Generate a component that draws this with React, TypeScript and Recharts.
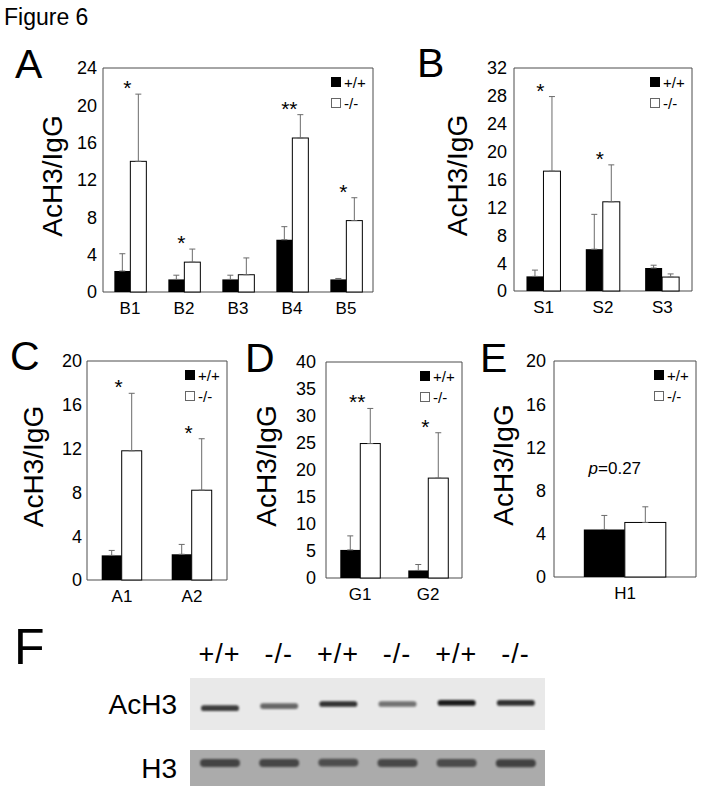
import React from "react";
import {
  BarChart,
  Bar,
  XAxis,
  YAxis,
  ErrorBar,
  Legend,
  ReferenceArea,
  CartesianGrid,
} from "recharts";

const FONT = "'Liberation Sans', Arial, Helvetica, sans-serif";
const FRAME = "#4d4d4d";
const ERR = "#6b6b6b";

// A: B1-B5
const catsA = ["B1", "B2", "B3", "B4", "B5"];
const wtA = [2.25, 1.35, 1.35, 5.6, 1.35];
const wtErrA = [1.85, 0.45, 0.45, 1.4, 0.1];
const koA = [14.0, 3.2, 1.85, 16.5, 7.65];
const koErrA = [7.2, 1.4, 1.8, 2.5, 2.45];
const sigA = ["*", "*", "", "**", "*"];
const ticksA = [0, 4, 8, 12, 16, 20, 24];

// B: S1-S3
const catsB = ["S1", "S2", "S3"];
const wtB = [2.1, 6.0, 3.3];
const wtErrB = [0.9, 5.0, 0.4];
const koB = [17.2, 12.8, 2.0];
const koErrB = [10.7, 5.3, 0.45];
const sigB = ["*", "*", ""];
const ticksB = [0, 4, 8, 12, 16, 20, 24, 28, 32];

// C: A1-A2
const catsC = ["A1", "A2"];
const wtC = [2.25, 2.35];
const wtErrC = [0.45, 0.9];
const koC = [11.8, 8.2];
const koErrC = [5.25, 4.7];
const sigC = ["*", "*"];
const ticksC = [0, 4, 8, 12, 16, 20];

// D: G1-G2
const catsD = ["G1", "G2"];
const wtD = [5.2, 1.4];
const wtErrD = [2.6, 1.1];
const koD = [24.9, 18.5];
const koErrD = [6.5, 8.4];
const sigD = ["**", "*"];
const ticksD = [0, 5, 10, 15, 20, 25, 30, 35, 40];

// E: H1
const catsE = ["H1"];
const wtE = [4.4];
const wtErrE = [1.3];
const koE = [5.05];
const koErrE = [1.45];
const sigE = ["p=0.27"];
const ticksE = [0, 4, 8, 12, 16, 20];

// F: western blot lanes
const lanes = ["+/+", "-/-", "+/+", "-/-", "+/+", "-/-"];
const acH3Level = [0.8, 0.6, 0.85, 0.55, 0.95, 0.85];
const acH3Pos = [4.2, 4.6, 5.0, 5.0, 5.2, 5.2];
const h3Level = [0.8, 0.78, 0.72, 0.76, 0.74, 0.82];
const h3Pos = [6.4, 6.4, 6.5, 6.4, 6.4, 6.3];

type Spec = {
  cats: string[];
  wt: number[];
  wtErr: number[];
  ko: number[];
  koErr: number[];
  sig: string[];
  ticks: number[];
  box: [number, number, number, number];
  tickGap: number;
  titleGap: number;
};

const YW = 90;
const TOP = 16;
const XH = 32;
const RIGHT = 4;

function LegendBox(props: any) {
  const items = props.payload ?? [];
  return (
    <div style={{ fontFamily: FONT, fontSize: 15, color: "#000" }}>
      {items.map((it: any, i: number) => (
        <div key={i} style={{ display: "flex", alignItems: "center", height: 21 }}>
          <span
            style={{
              display: "inline-block",
              width: 10,
              height: 10,
              boxSizing: "border-box",
              border: i === 0 ? "1px solid #000" : "1px solid #666",
              background: i === 0 ? "#000" : "#fff",
              marginRight: 3,
            }}
          />
          <span style={{ lineHeight: "21px" }}>{it.value}</span>
        </div>
      ))}
    </div>
  );
}

// white bar with its significance mark above the error bar
function KoShape(props: any) {
  const { x, y, width, height, payload } = props;
  if (height == null || !payload) return null;
  const px = payload.ko ? height / payload.ko : 0;
  const errTop = y - payload.koErr[1] * px;
  const sig: string = payload.sig || "";
  return (
    <g>
      <rect x={x} y={y} width={width} height={height} fill="#fff" stroke="#000" strokeWidth={1} />
      {sig.startsWith("p=") ? (
        <text x={x - 10} y={errTop - 33} textAnchor="middle" fontSize={17} fill="#000">
          <tspan fontStyle="italic">p</tspan>
          {sig.slice(1)}
        </text>
      ) : sig ? (
        <text x={x - 3} y={errTop + 1} textAnchor="middle" fontSize={21} fill="#000">
          {sig}
        </text>
      ) : null}
    </g>
  );
}

function Panel({ s }: { s: Spec }) {
  const [x0, y0, x1, y1] = s.box;
  const width = x1 - x0 + YW + RIGHT;
  const height = y1 - y0 + TOP + XH;
  const left = x0 - YW;
  const top = y0 - TOP;
  const yMax = s.ticks[s.ticks.length - 1];
  const data = s.cats.map((c, i) => ({
    cat: c,
    wt: s.wt[i],
    wtErr: [0, s.wtErr[i]],
    ko: s.ko[i],
    koErr: [0, s.koErr[i]],
    sig: s.sig[i],
  }));

  const title = (p: any) => {
    const vb = p.viewBox || {};
    const cx = vb.x + vb.width - s.titleGap;
    const cy = vb.y + vb.height / 2 - 4;
    return (
      <text
        x={cx}
        y={cy}
        transform={`rotate(-90, ${cx}, ${cy})`}
        textAnchor="middle"
        fontSize={28}
        fill="#000"
      >
        AcH3/IgG
      </text>
    );
  };

  return (
    <div style={{ position: "absolute", left, top }}>
      <BarChart
        width={width}
        height={height}
        data={data}
        margin={{ top: TOP, right: RIGHT, bottom: 0, left: 0 }}
        barCategoryGap="21%"
        barGap={0}
      >
        <XAxis
          dataKey="cat"
          height={XH}
          interval={0}
          axisLine={false}
          tickLine={false}
          tickSize={6}
          tickMargin={4}
          tick={{ fill: "#000", fontSize: 17 }}
        />
        <YAxis
          domain={[0, yMax]}
          ticks={s.ticks}
          width={YW}
          axisLine={false}
          tickLine={false}
          tickSize={s.tickGap - 2}
          tickMargin={2}
          tick={{ fill: "#000", fontSize: 18 }}
          label={title}
        />
        <ReferenceArea y1={0} y2={yMax} fill="none" stroke={FRAME} strokeWidth={1} ifOverflow="visible" />
        <Bar dataKey="wt" name="+/+" fill="#000" isAnimationActive={false}>
          <ErrorBar dataKey="wtErr" width={3} stroke={ERR} strokeWidth={1} />
        </Bar>
        <Bar dataKey="ko" name="-/-" fill="#fff" shape={KoShape} isAnimationActive={false}>
          <ErrorBar dataKey="koErr" width={3} stroke={ERR} strokeWidth={1} />
        </Bar>
        <Legend
          layout="horizontal"
          verticalAlign="middle"
          align="center"
          content={LegendBox}
          wrapperStyle={{ left: x1 - 42 - left, top: y0 + 9 - 5.5 - top, width: 64, height: 42 }}
        />
      </BarChart>
    </div>
  );
}

function BandShape(props: any) {
  const { x, y, width, height, payload, dark } = props;
  if (height == null || !payload) return null;
  return (
    <rect
      x={x + 2}
      y={y}
      width={Math.max(0, width - 4)}
      height={height}
      rx={height / 2}
      fill={dark}
      opacity={payload.level}
      style={{ filter: "blur(1.2px)" }}
    />
  );
}

function BlotRow({
  name,
  level,
  pos,
  half,
  box,
  showLanes,
  bg,
  band,
  barSize,
}: {
  name: string;
  level: number[];
  pos: number[];
  half: number;
  box: [number, number, number, number];
  showLanes: boolean;
  bg: string;
  band: string;
  barSize: number;
}) {
  const [x0, y0, x1, y1] = box;
  const yw = 100;
  const xh = showLanes ? 38 : 0;
  const data = lanes.map((l, i) => ({
    lane: l,
    level: level[i],
    band: [pos[i] - half, pos[i] + half],
  }));
  const title = (p: any) => {
    const vb = p.viewBox || {};
    return (
      <text x={vb.x + vb.width - 13} y={vb.y + vb.height / 2 + 10} textAnchor="end" fontSize={28} fill="#000">
        {name}
      </text>
    );
  };
  return (
    <div style={{ position: "absolute", left: x0 - yw, top: y0 - xh }}>
      <BarChart
        width={x1 - x0 + yw}
        height={y1 - y0 + xh}
        data={data}
        margin={{ top: 0, right: 0, bottom: 0, left: 0 }}
        barCategoryGap={0}
      >
        <CartesianGrid fill={bg} stroke="none" horizontal={false} vertical={false} />
        <XAxis
          dataKey="lane"
          orientation="top"
          height={xh}
          hide={!showLanes}
          interval={0}
          axisLine={false}
          tickLine={false}
          tickSize={6}
          tickMargin={9}
          tick={{ fill: "#000", fontSize: 27, letterSpacing: 1 }}
        />
        <YAxis
          domain={[0, 10]}
          width={yw}
          axisLine={false}
          tickLine={false}
          tick={false}
          label={title}
        />
        <Bar
          dataKey="band"
          barSize={barSize}
          isAnimationActive={false}
          shape={(p: any) => <BandShape {...p} dark={band} />}
        />
      </BarChart>
    </div>
  );
}

const specA: Spec = { cats: catsA, wt: wtA, wtErr: wtErrA, ko: koA, koErr: koErrA, sig: sigA, ticks: ticksA, box: [103, 68, 373, 292], tickGap: 6, titleGap: 41 };
const specB: Spec = { cats: catsB, wt: wtB, wtErr: wtErrB, ko: koB, koErr: koErrB, sig: sigB, ticks: ticksB, box: [514, 68, 692, 291], tickGap: 7, titleGap: 47 };
const specC: Spec = { cats: catsC, wt: wtC, wtErr: wtErrC, ko: koC, koErr: koErrC, sig: sigC, ticks: ticksC, box: [87, 361, 227, 580], tickGap: 5, titleGap: 44 };
const specD: Spec = { cats: catsD, wt: wtD, wtErr: wtErrD, ko: koD, koErr: koErrD, sig: sigD, ticks: ticksD, box: [326, 362, 462, 578], tickGap: 10, titleGap: 50 };
const specE: Spec = { cats: catsE, wt: wtE, wtErr: wtErrE, ko: koE, koErr: koErrE, sig: sigE, ticks: ticksE, box: [554, 361, 696, 577], tickGap: 8, titleGap: 41 };

export default function App() {
  return (
    <div
      style={{
        position: "absolute",
        left: 0,
        top: 0,
        width: 704,
        height: 793,
        background: "#fff",
        fontFamily: FONT,
        overflow: "hidden",
      }}
    >
      <svg width={704} height={793} style={{ position: "absolute", left: 0, top: 0 }}>
        <g fontFamily={FONT} fill="#000">
          <text x={4} y={25} fontSize={23}>Figure 6</text>
          <text x={15} y={78} fontSize={41}>A</text>
          <text x={417} y={77} fontSize={41}>B</text>
          <text x={10} y={370} fontSize={41}>C</text>
          <text x={245} y={372} fontSize={41}>D</text>
          <text x={480} y={372} fontSize={41}>E</text>
          <text x={14} y={664} fontSize={50}>F</text>
        </g>
      </svg>
      <Panel s={specA} />
      <Panel s={specB} />
      <Panel s={specC} />
      <Panel s={specD} />
      <Panel s={specE} />
      <BlotRow name="AcH3" level={acH3Level} pos={acH3Pos} half={0.55} box={[190, 678, 545, 730]} showLanes bg="#e9e9e9" band="#111" barSize={42} />
      <BlotRow name="H3" level={h3Level} pos={h3Pos} half={1.1} box={[190, 750, 545, 786]} showLanes={false} bg="#ababab" band="#2a2a2a" barSize={44} />
    </div>
  );
}
